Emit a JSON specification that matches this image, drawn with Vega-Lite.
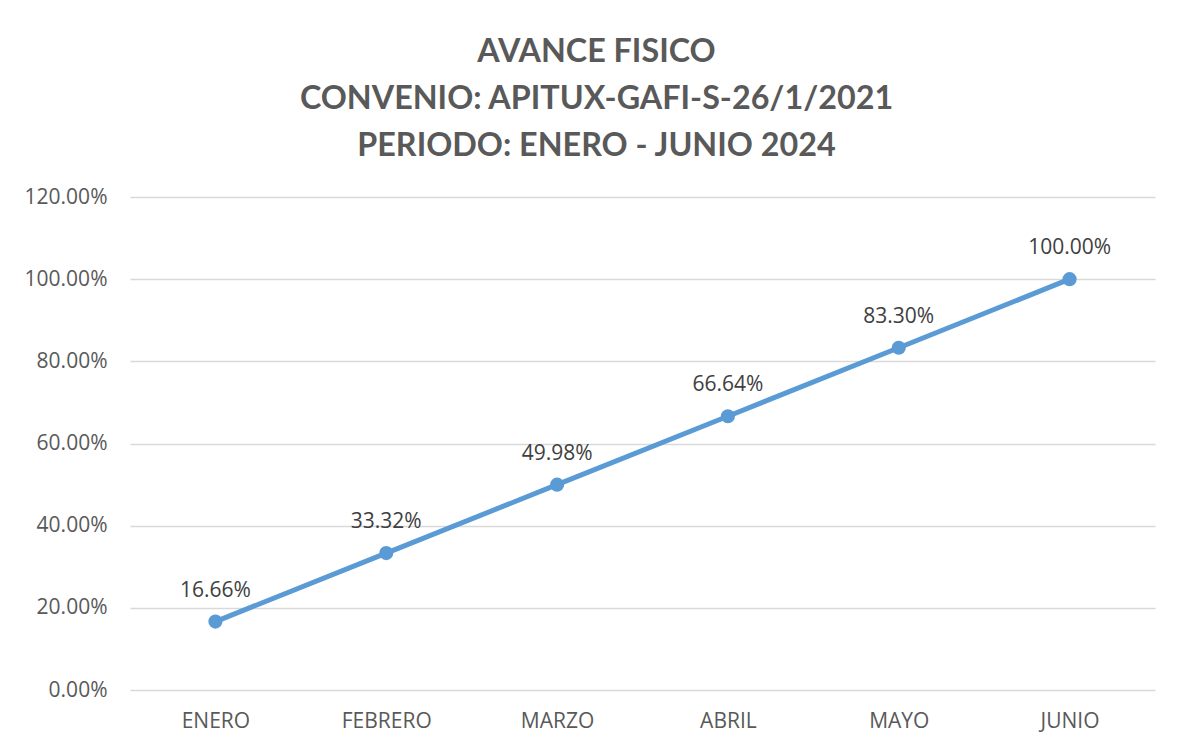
{
  "$schema": "https://vega.github.io/schema/vega-lite/v6.json",
  "width": 1025,
  "height": 493,
  "autosize": {"type": "none"},
  "padding": {"left": 130, "top": 197, "right": 24, "bottom": 59},
  "background": "white",
  "title": {
    "text": ["AVANCE FISICO", "CONVENIO: APITUX-GAFI-S-26/1/2021", "PERIODO: ENERO - JUNIO 2024"],
    "font": "Lato",
    "fontSize": 32.3,
    "fontWeight": "bold",
    "color": "#595959",
    "lineHeight": 47,
    "anchor": "middle",
    "dx": -46,
    "offset": 24
  },
  "data": {
    "values": [
      {"mes": "ENERO", "avance": 0.1666},
      {"mes": "FEBRERO", "avance": 0.3332},
      {"mes": "MARZO", "avance": 0.4998},
      {"mes": "ABRIL", "avance": 0.6664},
      {"mes": "MAYO", "avance": 0.833},
      {"mes": "JUNIO", "avance": 1.0}
    ]
  },
  "encoding": {
    "x": {
      "field": "mes",
      "type": "nominal",
      "sort": null,
      "scale": {"type": "point", "padding": 0.5},
      "axis": {
        "title": null,
        "labelAngle": 0,
        "domain": false,
        "ticks": false,
        "labelFont": "Open Sans",
        "labelFontSize": 21,
        "labelColor": "#595959",
        "labelPadding": 20,
        "grid": false
      }
    },
    "y": {
      "field": "avance",
      "type": "quantitative",
      "scale": {"domain": [0, 1.2], "nice": false},
      "axis": {
        "title": null,
        "format": ".2%",
        "values": [0, 0.2, 0.4, 0.6, 0.8, 1.0, 1.2],
        "domain": false,
        "ticks": false,
        "labelFont": "Open Sans",
        "labelFontSize": 21,
        "labelColor": "#595959",
        "labelPadding": 23,
        "gridColor": "#D9D9D9",
        "gridWidth": 1.3
      }
    }
  },
  "layer": [
    {"mark": {"type": "line", "color": "#5B9BD5", "strokeWidth": 5}},
    {"mark": {"type": "point", "filled": true, "color": "#5B9BD5", "size": 200, "opacity": 1}},
    {
      "mark": {"type": "text", "font": "Open Sans", "fontSize": 21, "color": "#404040", "baseline": "alphabetic", "dy": -25},
      "encoding": {"text": {"field": "avance", "type": "quantitative", "format": ".2%"}}
    }
  ],
  "config": {"view": {"stroke": null}}
}
